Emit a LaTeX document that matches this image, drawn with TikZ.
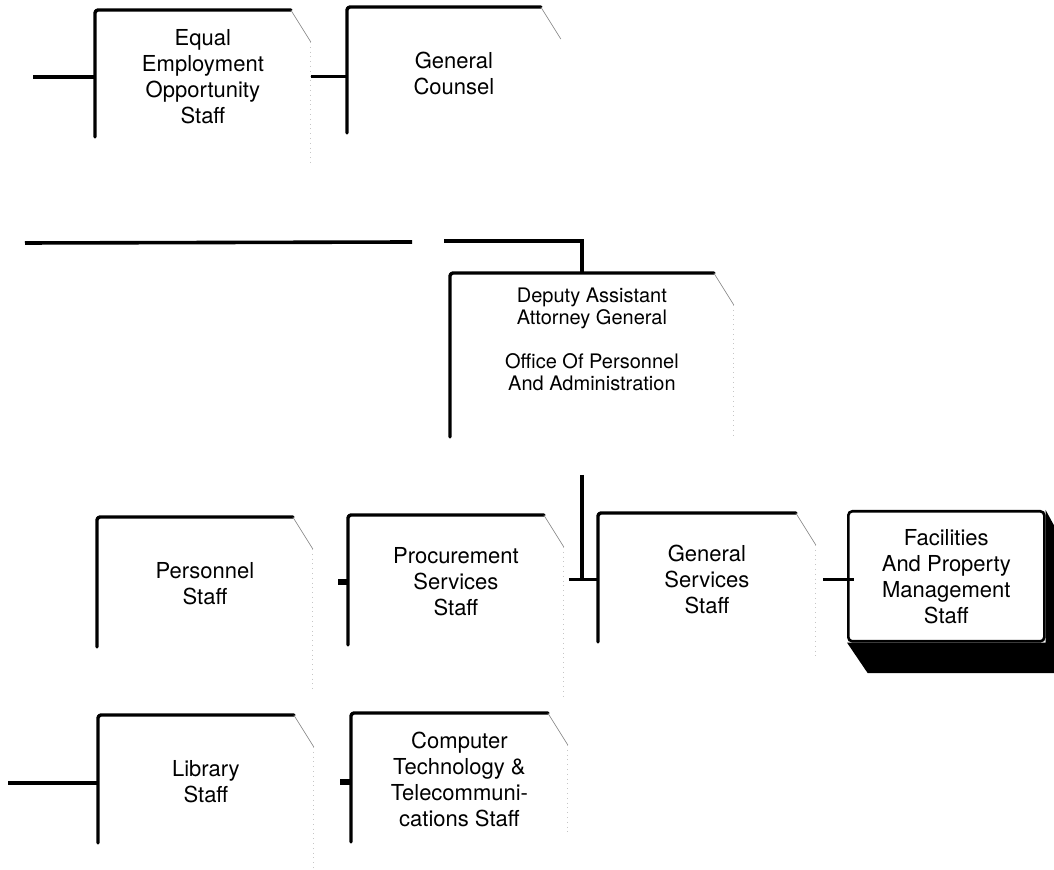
\documentclass[tikz,border=0pt]{standalone}
\usepackage{fontspec}
\setmainfont{TeX Gyre Heros}
\tikzset{
  unit/.style={anchor=north west, minimum width=107.5pt, minimum height=66pt,
    inner sep=0pt, align=center, font=\fontsize{11}{13}\selectfont},
  frame/.style={line width=1.7pt, line cap=round, line join=round, rounded corners=1.5pt},
  corner/.style={gray, line width=0.3pt},
  faint/.style={gray!45, line width=0.4pt, dotted},
  link/.style={line width=1.8pt},
  stub/.style={line width=2.8pt},
}
\begin{document}
\begin{tikzpicture}[x=0.5pt,y=-0.5pt]
    \useasboundingbox (0,0) rectangle (1054,870);
    \clip (0,0) rectangle (1054,870);
    %% Top row
    \node[unit] (eeo) at (95,10) {Equal\\Employment\\Opportunity\\Staff};
    \node[unit, minimum width=106.5pt] (gc) at (347,7) {General\\Counsel};
    %% Deputy
    \node[unit, minimum width=141.5pt, font=\fontsize{10}{11}\selectfont] (dep) at (450,273)
        {Deputy Assistant\\Attorney General\\[11pt]Office Of Personnel\\And Administration};
    %% Staffs
    \node[unit] (pers) at (97,517) {Personnel\\Staff};
    \node[unit] (proc) at (348,515) {Procurement\\Services\\Staff};
    \node[unit, minimum width=108.5pt] (gs) at (598,513) {General\\Services\\Staff};
    \node[unit, draw, fill=white, line width=1.3pt, rounded corners=2pt,
        minimum width=98pt, minimum height=65pt] (fac) at (847,510)
        {Facilities\\And Property\\Management\\Staff};
    \node[unit] (lib) at (98,715) {Library\\Staff};
    \node[unit, minimum width=108pt] (comp) at (351,713)
        {Computer\\Technology \&\\Telecommuni-\\cations Staff};
    %% Frames
    \foreach \b/\len/\fl in {eeo/127/123, gc/126/0, dep/164/130, pers/130/140,
        proc/130/150, gs/129/115, lib/128/125, comp/129/90}{
        \draw[frame] (\b.north west) ++(0,\len) -- (\b.north west)
            -- ([xshift=-10pt]\b.north east);
        \draw[corner] ([xshift=-10pt]\b.north east) -- ([yshift=-16pt]\b.north east);
        \draw[faint] ([yshift=-16pt]\b.north east) -- ++(0,\fl);
    }
    %% Shadow
    \fill (fac.north east) -- ++(18,33) -- ++(0,130) -- ++(-196,0)
        -- (fac.south west) -- (fac.south east) -- cycle;
    %% Connectors
    \coordinate (eeoin) at (33,77);
    \draw[link] (eeoin) -- (eeoin -| eeo.west);
    \draw[link] (eeo.east) -- (eeo.east -| gc.west);
    \coordinate (busl) at (25,243);
    \coordinate (busgap) at (412,242);
    \coordinate (busr) at (444,241);
    \coordinate (busdrop) at (582,241);
    \draw[link] (busl) -- (busgap);
    \draw[link] (busr) -- (busdrop) -- (busdrop |- dep.north);
    \coordinate (depout) at (582,475);
    \draw[link] (depout) |- (gs.west);
    \draw[link] ([xshift=2.5pt]proc.east |- gs.west) -- (gs.west);
    \coordinate (procin) at (338,582);
    \draw[stub] (procin) -- (procin -| proc.west);
    \draw[link] ([xshift=3.5pt]gs.east) -- ([xshift=3.5pt]gs.east -| fac.west);
    \coordinate (libin) at (8,783);
    \draw[link] (libin) -- (libin -| lib.west);
    \coordinate (compin) at (340,782);
    \draw[stub] (compin) -- (compin -| comp.west);
\end{tikzpicture}
\end{document}
